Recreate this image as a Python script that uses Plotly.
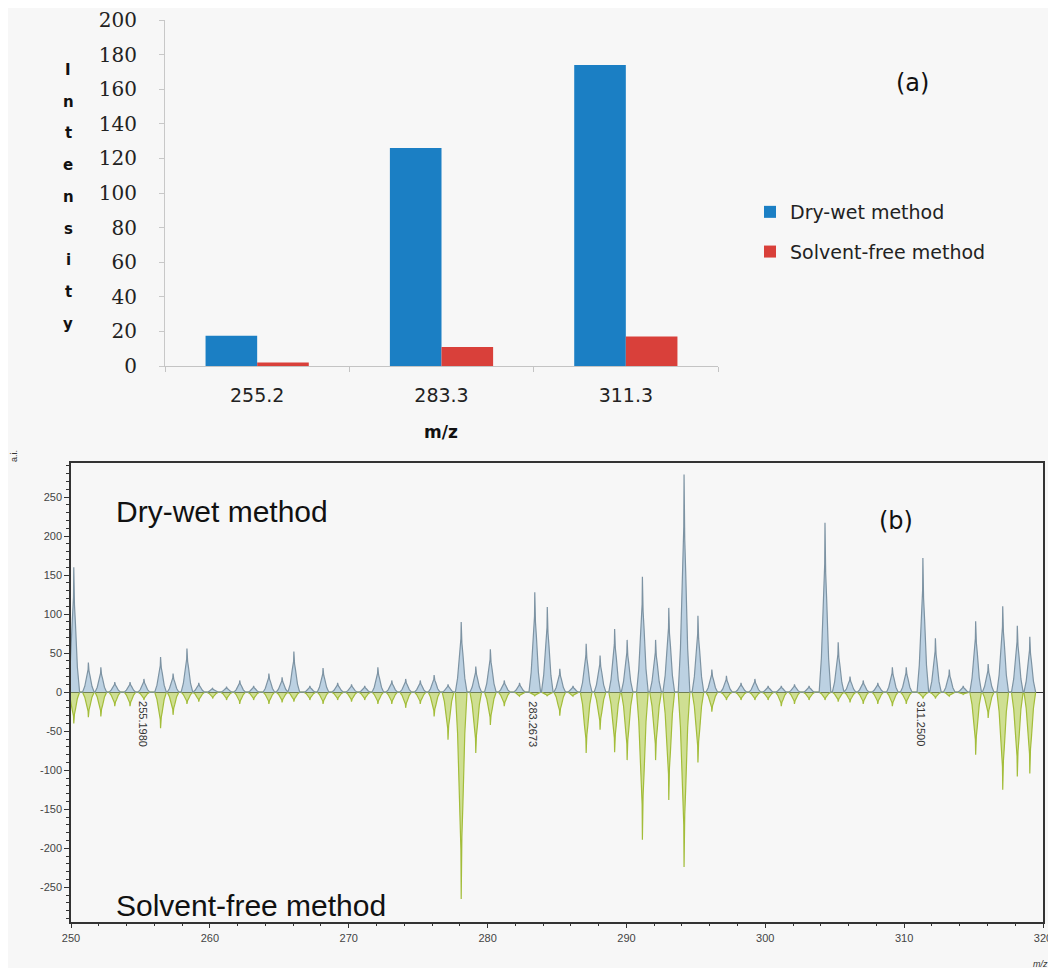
import plotly.graph_objects as go

# ---------------- Panel (a): bar chart ----------------
mz_labels = ["255.2", "283.3", "311.3"]
dry_wet = [17.5, 126, 174]
solvent_free = [2, 11, 17]
a_yticks = [0, 20, 40, 60, 80, 100, 120, 140, 160, 180, 200]

# ---------------- Panel (b): mirror mass spectrum ----------------
peak_mz = [250.2, 251.25, 252.15, 253.15, 254.25, 255.25, 256.45, 257.35, 258.35, 259.2,
           260.2, 261.2, 262.15, 263.15, 264.25, 265.2, 266.05, 267.2, 268.15, 269.2,
           270.2, 271.15, 272.1, 273.1, 274.1, 275.15, 276.15, 277.15, 278.1, 279.15,
           280.2, 281.2, 282.3, 283.4, 284.3, 285.2, 286.15, 287.1, 288.1, 289.15,
           290.05, 291.15, 292.1, 293.05, 294.15, 295.15, 296.15, 297.2, 298.25, 299.25,
           300.2, 301.15, 302.1, 303.15, 304.3, 305.25, 306.1, 307.05, 308.1, 309.15,
           310.15, 311.35, 312.25, 313.25, 314.25, 315.15, 316.05, 317.1, 318.15, 319.05]
dry_wet_int = [160, 38, 32, 13, 13, 17, 45, 24, 56, 12,
               5, 7, 15, 8, 24, 19, 52, 8, 31, 12,
               10, 8, 32, 15, 17, 15, 22, 10, 90, 33,
               55, 15, 12, 128, 109, 30, 8, 62, 47, 81,
               67, 148, 67, 108, 279, 98, 29, 21, 12, 17,
               8, 8, 10, 8, 217, 64, 20, 15, 12, 32,
               32, 172, 69, 29, 8, 91, 36, 110, 85, 71]
solvent_free_int = [-40, -32, -31, -18, -18, -10, -46, -29, -15, -12,
                    -8, -10, -15, -10, -15, -13, -12, -10, -15, -10,
                    -12, -10, -15, -15, -20, -15, -31, -61, -265, -78,
                    -42, -18, -5, -5, -5, -30, -5, -78, -48, -77,
                    -87, -189, -87, -138, -224, -90, -25, -10, -10, -10,
                    -10, -18, -15, -10, -10, -12, -13, -15, -15, -18,
                    -15, -8, -8, -5, -3, -80, -33, -125, -108, -104]
label_mz = [255.198, 283.2673, 311.25]
label_text = ["255.1980", "283.2673", "311.2500"]
b_xticks = [250, 260, 270, 280, 290, 300, 310, 320]
b_yticks = [-250, -200, -150, -100, -50, 0, 50, 100, 150, 200, 250]
b_yticktext = ["-250", "-200", "-150", "-100", "-50", "0", "50", "100", "150", "200", "250"]

# page has an 8px body margin: figure is sized to fit inside the 1056x980 window
OFFSET = 8
W, H = 1048, 960
BG = "#f7f7f7"


def px(x):
    return (x - OFFSET) / W


def py(y):
    return 1 - (y - OFFSET) / H


# peak glyph (drawing style for each listed peak)
OFF = [-0.42, -0.26, -0.12, -0.05, -0.02, 0, 0.02, 0.05, 0.12, 0.26, 0.42]
FRAC = [0, 0.2, 0.55, 0.7, 0.76, 1, 0.76, 0.7, 0.55, 0.2, 0]


def profile(mzs, ints):
    xs, ys = [], []
    for m, h in zip(mzs, ints):
        for o, f in zip(OFF, FRAC):
            xs.append(m + o)
            ys.append(h * f)
    return xs, ys


fig = go.Figure()

fig.add_trace(go.Bar(x=mz_labels, y=dry_wet, name="Dry-wet method",
                     marker=dict(color="#1b7fc4", line=dict(width=0)),
                     legendgroup="a1", xaxis="x", yaxis="y"))
fig.add_trace(go.Bar(x=mz_labels, y=solvent_free, name="Solvent-free method",
                     marker=dict(color="#d9403a", line=dict(width=0)),
                     legendgroup="a2", xaxis="x", yaxis="y"))

nx, ny = profile(peak_mz, solvent_free_int)
fig.add_trace(go.Scatter(x=nx, y=ny, mode="lines", fill="tozeroy",
                         line=dict(color="#a3bd3a", width=1.2),
                         fillcolor="rgba(180,206,80,0.6)",
                         showlegend=False, xaxis="x2", yaxis="y2"))
pxs, pys = profile(peak_mz, dry_wet_int)
fig.add_trace(go.Scatter(x=pxs, y=pys, mode="lines", fill="tozeroy",
                         line=dict(color="#7d93a3", width=1.2),
                         fillcolor="rgba(130,172,205,0.5)",
                         showlegend=False, xaxis="x2", yaxis="y2"))


def note(x, y, text, size, family="DejaVu Sans", color="#111", xanchor="center", **kw):
    return dict(x=px(x), y=py(y), xref="paper", yref="paper", text=text,
                xanchor=xanchor, yanchor="middle", showarrow=False,
                font=dict(family=family, size=size, color=color), **kw)


annotations = []
# stacked "Intensity" y-axis title
for i, ch in enumerate("Intensity"):
    annotations.append(note(68, 70 + i * 31.7, "<b>%s</b>" % ch, 15))
annotations += [
    note(441, 432, "<b>m/z</b>", 17),
    note(912, 83, "(a)", 24),
    note(114, 511, "Dry-wet method", 30, family="Liberation Sans", xanchor="left"),
    note(114, 905, "Solvent-free method", 30, family="Liberation Sans", xanchor="left"),
    note(896, 521, "(b)", 24),
    note(14, 456, "a.i.", 9, family="Liberation Sans", color="#333", textangle=-90),
    note(1040, 964, "<i>m/z</i>", 9, family="Liberation Sans", color="#333"),
]
for m, t in zip(label_mz, label_text):
    annotations.append(dict(x=m, y=-9, xref="x2", yref="y2", text=t, textangle=90,
                            xanchor="center", yanchor="top", showarrow=False,
                            font=dict(family="Liberation Sans", size=11, color="#333")))

fig.update_layout(
    width=W, height=H,
    margin=dict(l=0, r=0, t=0, b=0, autoexpand=False),
    paper_bgcolor=BG, plot_bgcolor=BG,
    barmode="group", bargap=0.44, bargroupgap=0,
    showlegend=True,
    legend=dict(x=px(750), y=py(193), xanchor="left", yanchor="top",
                bgcolor="rgba(0,0,0,0)", tracegroupgap=12,
                font=dict(family="DejaVu Sans", size=19, color="#222")),
    xaxis=dict(domain=[px(165), px(718)], anchor="y", type="category", automargin=False,
               showline=True, linecolor="#c4c4c4", linewidth=1,
               ticks="outside", tickson="boundaries", ticklen=5, tickcolor="#c4c4c4",
               ticklabelstandoff=12, showgrid=False, zeroline=False,
               tickfont=dict(family="DejaVu Sans", size=19, color="#222")),
    yaxis=dict(domain=[py(366), py(20)], anchor="x", range=[0, 200], automargin=False,
               tickvals=a_yticks, showline=True, linecolor="#c8c8c8", linewidth=1,
               ticks="outside", ticklen=5, tickcolor="#c8c8c8", ticklabelstandoff=18,
               showgrid=False, zeroline=False,
               tickfont=dict(family="DejaVu Serif", size=20, color="#222")),
    xaxis2=dict(domain=[px(71), px(1043)], anchor="y2", range=[250, 320], automargin=False,
                tickvals=b_xticks, showline=True, mirror=True, linecolor="#333",
                linewidth=1.5, ticks="outside", ticklen=5, tickcolor="#333",
                ticklabeloverflow="allow",
                minor=dict(ticks="outside", dtick=2, ticklen=3, tickcolor="#333"),
                showgrid=False, zeroline=False,
                tickfont=dict(family="Liberation Sans", size=11, color="#444")),
    yaxis2=dict(domain=[py(921.7), py(462.7)], anchor="x2", range=[-294, 294],
                automargin=False, ticklabeloverflow="allow",
                tickvals=b_yticks, ticktext=b_yticktext, showline=True, mirror=True,
                linecolor="#333", linewidth=1.5, ticks="outside", ticklen=5,
                tickcolor="#333",
                minor=dict(ticks="outside", dtick=10, ticklen=3, tickcolor="#333"),
                showgrid=False, zeroline=True, zerolinecolor="#333", zerolinewidth=1.2,
                tickfont=dict(family="Liberation Sans", size=11, color="#444")),
    annotations=annotations,
)

fig.write_html("out.html")
